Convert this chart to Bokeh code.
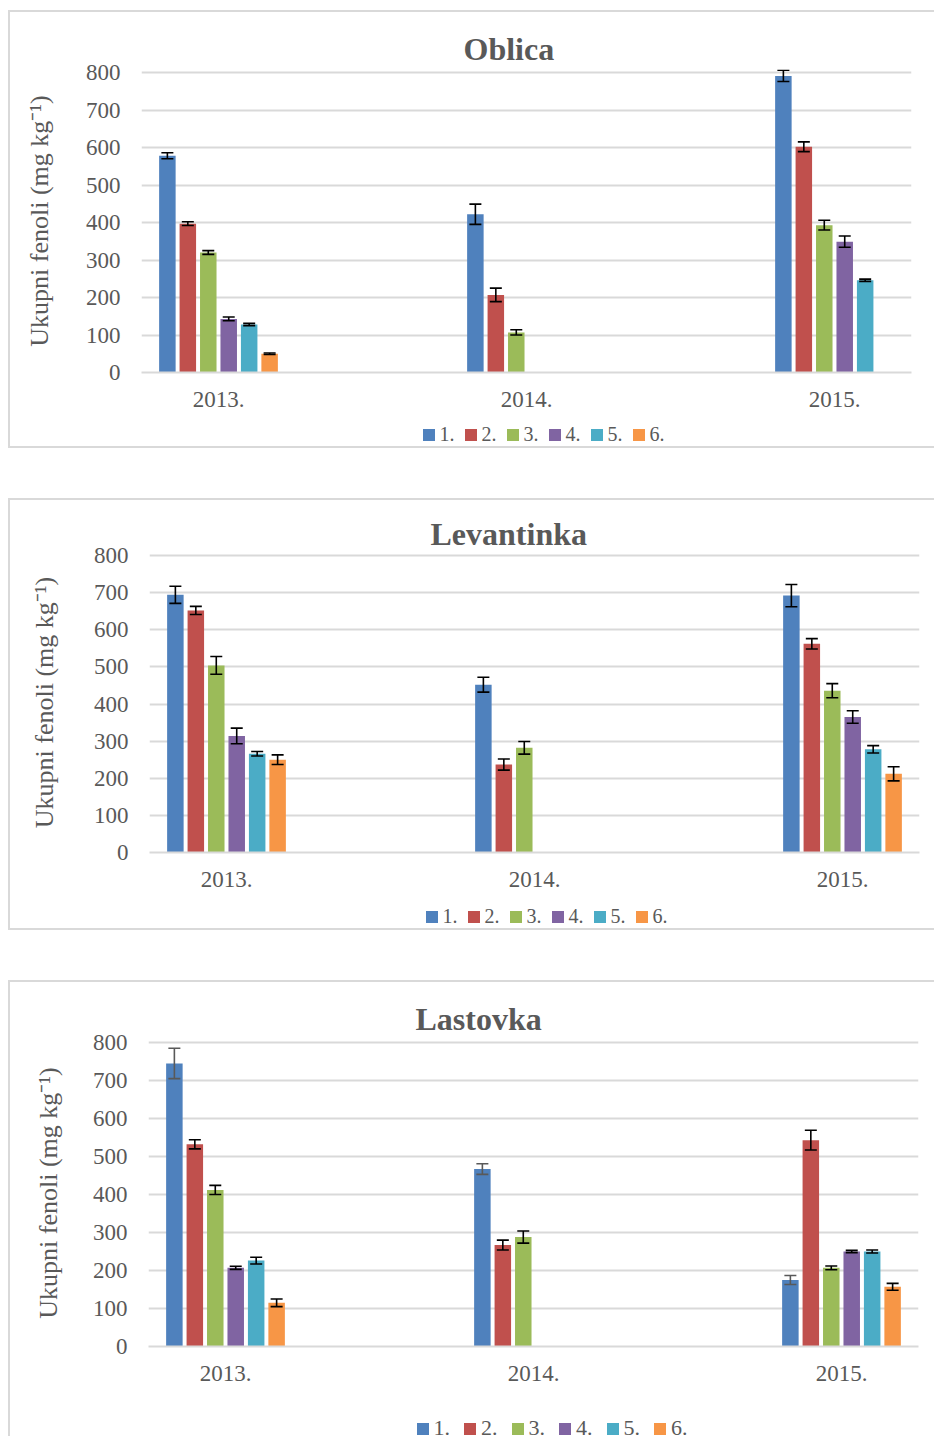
from bokeh.plotting import figure
from bokeh.models import Range1d, ColumnDataSource, Legend, LegendItem, FixedTicker
from bokeh.layouts import column
from bokeh.embed import file_html
from bokeh.resources import INLINE

years = ["2013.", "2014.", "2015."]
series_labels = ["1.", "2.", "3.", "4.", "5.", "6."]
y_ticks = [0, 100, 200, 300, 400, 500, 600, 700, 800]
colors = ["#4F81BD", "#C0504D", "#9BBB59", "#8064A2", "#4BACC6", "#F79646"]

# Oblica: values per series (1.-6.) for 2013., 2014., 2015.
oblica_values = [[578, 422, 791], [397, 207, 602], [320, 107, 393],
                 [143, None, 349], [128, None, 246], [50, None, None]]
oblica_errors = [[8, 27, 15], [5, 18, 13], [5, 7, 13],
                 [5, None, 15], [3, None, 3], [2, None, None]]

# Levantinka
levantinka_values = [[694, 452, 692], [652, 237, 562], [504, 282, 436],
                     [314, None, 365], [266, None, 278], [250, None, 212]]
levantinka_errors = [[23, 20, 30], [11, 15, 14], [24, 17, 19],
                     [21, None, 17], [6, None, 10], [13, None, 19]]

# Lastovka
lastovka_values = [[745, 467, 175], [532, 267, 543], [412, 288, 207],
                   [207, None, 250], [226, None, 250], [115, None, 157]]
lastovka_errors = [[40, 14, 12], [12, 13, 26], [12, 16, 5],
                   [4, None, 3], [9, None, 4], [10, None, 9]]

TXT = "#595959"
GRID = "#d9d9d9"
FONT = "Liberation Serif"
SLOT = 20.45 / 308.0
BAR_W = 16.5 / 308.0
CAP = 6.0 / 308.0
FW = 770
W = 926


def make_panel(title, values, errors, g):
    fh = g["fh"] + 3
    y_end = 800.0 * fh / g["fh"]
    top = g["top"] - 3
    p = figure(width=W, height=g["ch"],
               x_range=Range1d(-0.25, 2.25), y_range=Range1d(0, y_end),
               output_backend="svg", toolbar_location=None,
               min_border_left=g["left"], min_border_right=W - g["left"] - FW,
               min_border_top=top,
               min_border_bottom=g["ch"] - top - fh)
    p.title.text = title
    p.title.text_font = FONT
    p.title.text_font_size = "32px"
    p.title.text_font_style = "bold"
    p.title.text_color = TXT
    p.title.align = "left"
    p.title.offset = g["toff"]
    p.title.standoff = g["tst"]

    p.outline_line_color = None
    p.background_fill_color = "white"
    p.border_fill_color = None

    p.yaxis.ticker = FixedTicker(ticks=y_ticks)
    p.yaxis.major_label_text_font = FONT
    p.yaxis.major_label_text_font_size = "23px"
    p.yaxis.major_label_text_color = TXT
    p.yaxis.major_label_standoff = 21
    p.yaxis.axis_line_color = None
    p.yaxis.major_tick_line_color = None
    p.yaxis.minor_tick_line_color = None
    p.yaxis.major_tick_out = 0
    p.yaxis.major_tick_in = 0
    p.yaxis.minor_tick_out = 0
    p.yaxis.axis_label = "Ukupni fenoli (mg kg\u207b\u00b9)"
    p.yaxis.axis_label_text_font = FONT
    p.yaxis.axis_label_text_font_size = "26px"
    p.yaxis.axis_label_text_font_style = "normal"
    p.yaxis.axis_label_text_color = TXT
    p.yaxis.axis_label_standoff = g["alst"]

    p.xaxis.ticker = FixedTicker(ticks=[0, 1, 2])
    p.xaxis.major_label_overrides = {i: y for i, y in enumerate(years)}
    p.xaxis.major_label_text_font = FONT
    p.xaxis.major_label_text_font_size = "23px"
    p.xaxis.major_label_text_color = TXT
    p.xaxis.major_label_standoff = 19
    p.xaxis.axis_line_color = GRID
    p.xaxis.axis_line_width = 2
    p.xaxis.major_tick_line_color = None
    p.xaxis.minor_tick_line_color = None
    p.xaxis.major_tick_out = 0
    p.xaxis.major_tick_in = 0
    p.xaxis.minor_tick_out = 0

    p.ygrid.grid_line_color = GRID
    p.ygrid.grid_line_width = 2
    p.xgrid.grid_line_color = None

    # legend strip (its own small canvas below the chart)
    lf = figure(width=W, height=g["lh_fig"], x_range=Range1d(0, 1), y_range=Range1d(0, 1),
                output_backend="svg", toolbar_location=None,
                min_border_left=0, min_border_right=0, min_border_top=0, min_border_bottom=0)
    lf.axis.visible = False
    lf.grid.visible = False
    lf.outline_line_color = None
    lf.background_fill_color = None
    lf.border_fill_color = None

    items = []
    for j, lab in enumerate(series_labels):
        xs, tops, lo, hi = [], [], [], []
        for i in range(len(years)):
            v = values[j][i]
            if v is None:
                continue
            e = errors[j][i]
            x = i + (j - 2.5) * SLOT
            xs.append(x)
            tops.append(v)
            lo.append(v - e)
            hi.append(v + e)
        src = ColumnDataSource(dict(
            x=xs, top=tops, lo=lo, hi=hi,
            cl=[x - CAP for x in xs], cr=[x + CAP for x in xs]))
        p.vbar(x="x", top="top", bottom=0, width=BAR_W, source=src,
               fill_color=colors[j], line_color=None)
        ec = g["errc"][j]
        p.segment(x0="x", y0="lo", x1="x", y1="hi", source=src, line_color=ec, line_width=1.6)
        p.segment(x0="cl", y0="hi", x1="cr", y1="hi", source=src, line_color=ec, line_width=1.6)
        p.segment(x0="cl", y0="lo", x1="cr", y1="lo", source=src, line_color=ec, line_width=1.6)
        # legend proxy on the strip: same series, zero-height (nothing visible drawn)
        proxy = lf.vbar(x="x", top=0, bottom=0, width=BAR_W, source=src,
                        fill_color=colors[j], line_color=None)
        items.append(LegendItem(label=lab, renderers=[proxy]))

    leg = Legend(items=items, location=(g["lx"], g["ly"]), orientation="horizontal",
                 glyph_width=15, glyph_height=15, label_width=10, label_height=g["llh"],
                 label_standoff=4, spacing=g["lsp"], padding=0, margin=0,
                 border_line_color=None, background_fill_alpha=0,
                 label_text_font=FONT, label_text_font_size=g["lfs"],
                 label_text_color=TXT)
    lf.add_layout(leg)

    panel = column(p, lf, spacing=0, margin=g["margin"],
                   styles={"box-shadow": g["edge"]})
    return panel


edge3 = "inset 2px 0 0 #d9d9d9, inset 0 2px 0 #d9d9d9, inset 0 -2px 0 #d9d9d9"
edge2 = "inset 2px 0 0 #d9d9d9, inset 0 2px 0 #d9d9d9"
black6 = ["black"] * 6
p1 = make_panel("Oblica", oblica_values, oblica_errors,
                dict(ch=404, lh_fig=34, top=62, fh=300, left=133, toff=322, tst=5, alst=29,
                     lx=279.5, ly=2, llh=22, lsp=8, lfs="20px", errc=black6,
                     margin=(10, 0, 0, 8), edge=edge3))
p2 = make_panel("Levantinka", levantinka_values, levantinka_errors,
                dict(ch=396, lh_fig=36, top=57, fh=297, left=141, toff=281, tst=2, alst=32,
                     lx=274.5, ly=2, llh=22, lsp=8, lfs="20px", errc=black6,
                     margin=(50, 0, 0, 8), edge=edge3))
p3 = make_panel("Lastovka", lastovka_values, lastovka_errors,
                dict(ch=408, lh_fig=48, top=62, fh=304, left=140, toff=267, tst=5, alst=27,
                     lx=266.5, ly=-5, llh=25, lsp=12, lfs="22px",
                     errc=["#595959", "black", "black", "black", "black", "black"],
                     margin=(50, 0, 0, 8), edge=edge2))

layout = column(p1, p2, p3, spacing=0)
open("out.html", "w").write(file_html(layout, INLINE))
